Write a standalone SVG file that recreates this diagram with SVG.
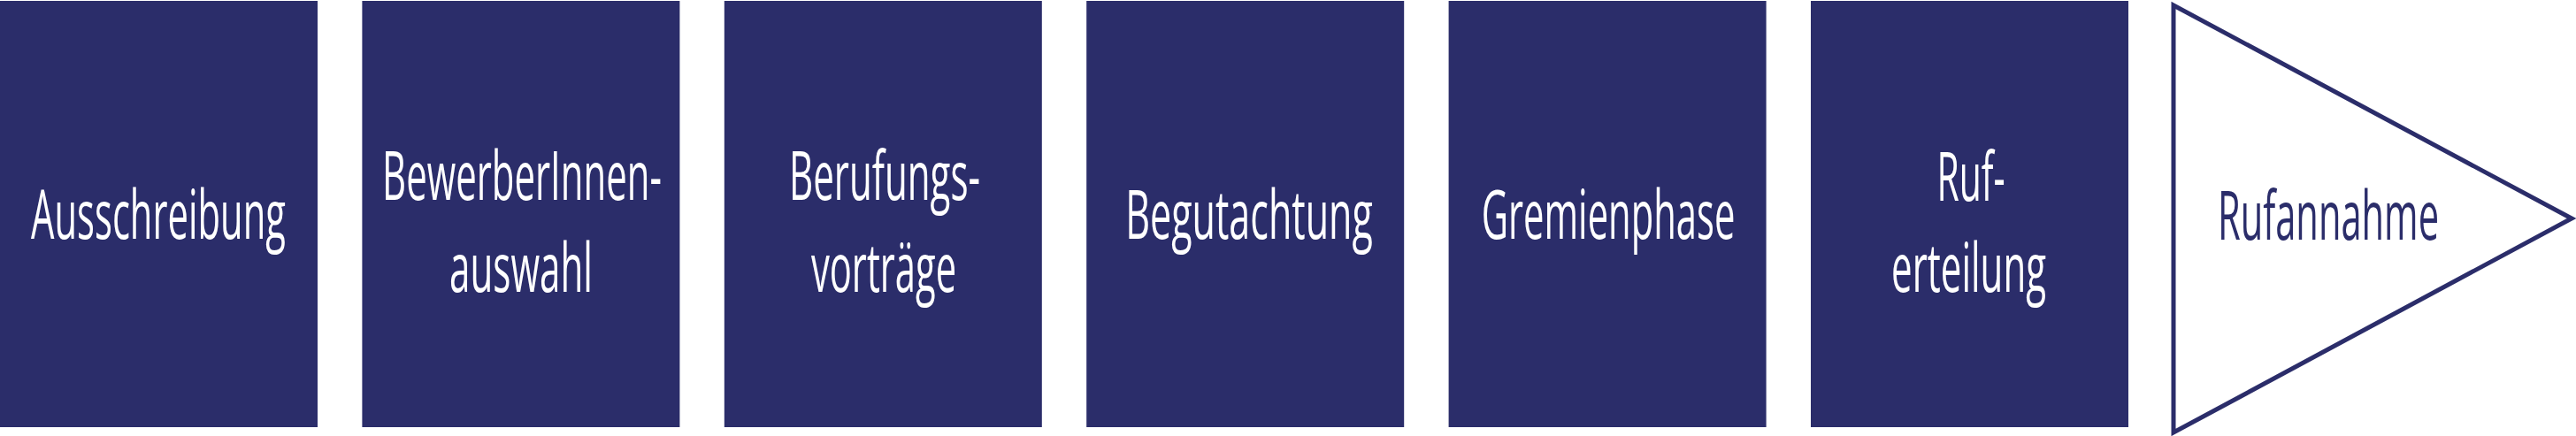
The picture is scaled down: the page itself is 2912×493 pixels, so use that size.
<svg xmlns="http://www.w3.org/2000/svg" width="2912" height="493" viewBox="0 0 2912 493">
<style>
.box{fill:#2b2d6a;}
.t{font-family:"Open Sans","Noto Sans",sans-serif;font-size:76px;fill:#ffffff;text-anchor:middle;}
.tr{font-family:"Open Sans","Noto Sans",sans-serif;font-size:76px;fill:#2b2d6a;text-anchor:middle;}
.tri{fill:#ffffff;stroke:#2b2d6a;stroke-width:5;stroke-linejoin:miter;}
</style>
<rect width="2912" height="493" fill="#ffffff"/>
<g id="connectors"></g>
<g id="n1">
<rect class="box" x="0" y="1" width="359" height="482"/>
<text class="t" transform="translate(179,270) scale(0.54,1)" textLength="533" lengthAdjust="spacingAndGlyphs">Ausschreibung</text>
</g>
<g id="n2">
<rect class="box" x="409.4" y="1" width="359" height="482"/>
<text class="t" transform="translate(590,226) scale(0.54,1)" textLength="585" lengthAdjust="spacingAndGlyphs">BewerberInnen-</text>
<text class="t" transform="translate(589,330) scale(0.54,1)" textLength="300" lengthAdjust="spacingAndGlyphs">auswahl</text>
</g>
<g id="n3">
<rect class="box" x="818.8" y="1" width="359" height="482"/>
<text class="t" transform="translate(1000,226) scale(0.54,1)" textLength="400" lengthAdjust="spacingAndGlyphs">Berufungs-</text>
<text class="t" transform="translate(999,330) scale(0.54,1)" textLength="304" lengthAdjust="spacingAndGlyphs">vorträge</text>
</g>
<g id="n4">
<rect class="box" x="1228.2" y="1" width="359" height="482"/>
<text class="t" transform="translate(1412,270) scale(0.54,1)" textLength="518" lengthAdjust="spacingAndGlyphs">Begutachtung</text>
</g>
<g id="n5">
<rect class="box" x="1637.6" y="1" width="359" height="482"/>
<text class="t" transform="translate(1818,270) scale(0.54,1)" textLength="531" lengthAdjust="spacingAndGlyphs">Gremienphase</text>
</g>
<g id="n6">
<rect class="box" x="2047" y="1" width="359" height="482"/>
<text class="t" transform="translate(2228,227) scale(0.54,1)" textLength="143" lengthAdjust="spacingAndGlyphs">Ruf-</text>
<text class="t" transform="translate(2225.5,330) scale(0.54,1)" textLength="324" lengthAdjust="spacingAndGlyphs">erteilung</text>
</g>
<g id="n7">
<polygon class="tri" points="2457,6 2907,247 2457,489"/>
<text class="tr" transform="translate(2632,271) scale(0.54,1)" textLength="463" lengthAdjust="spacingAndGlyphs">Rufannahme</text>
</g>
</svg>
